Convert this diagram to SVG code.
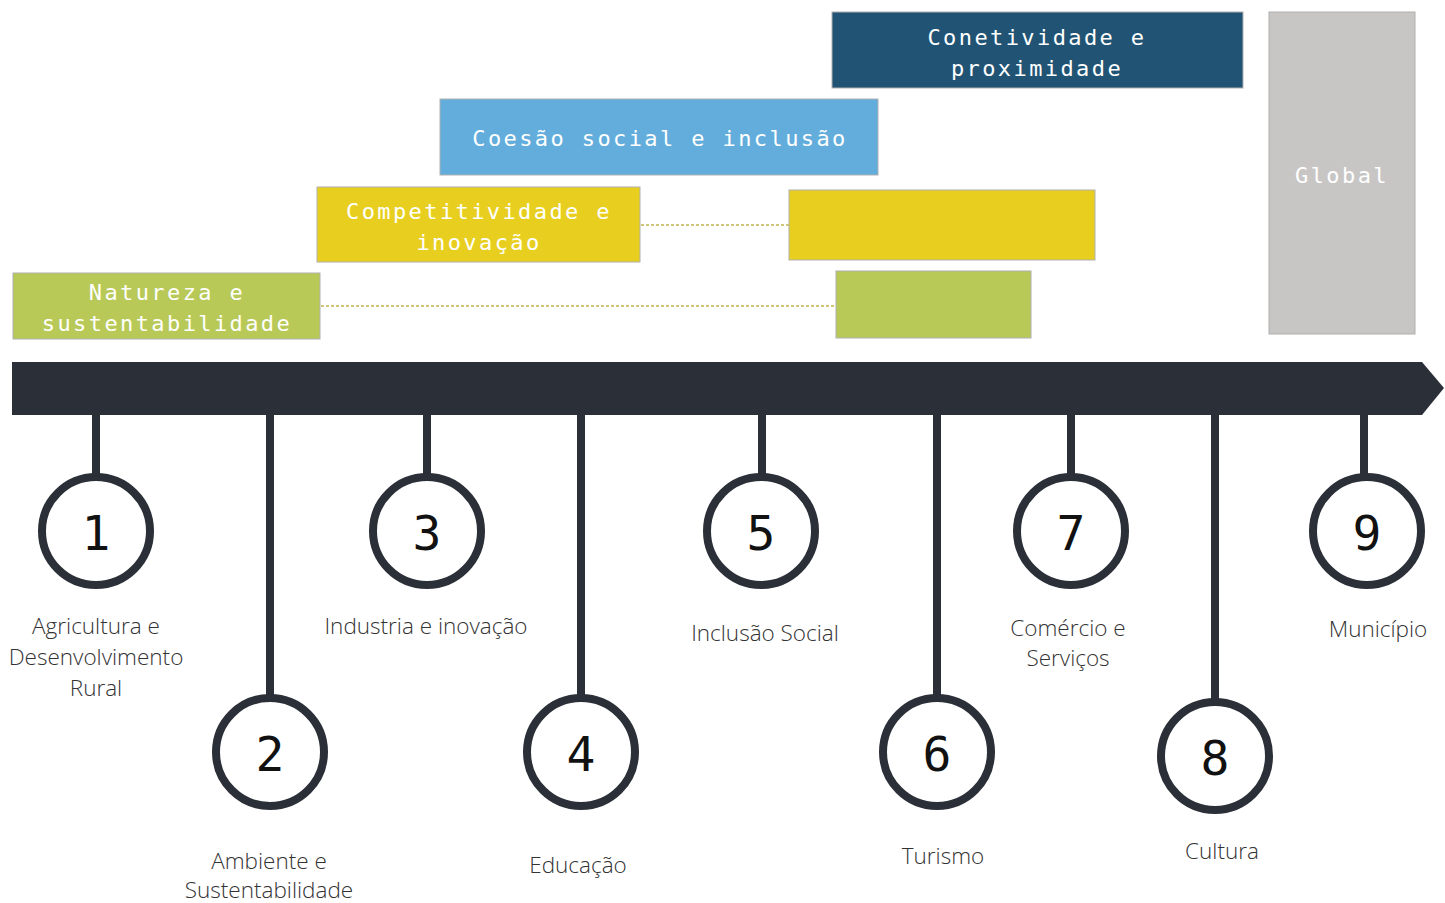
<svg xmlns="http://www.w3.org/2000/svg" width="1445" height="903" viewBox="0 0 1445 903">
<style>
.box{stroke:#b0b0b0;stroke-width:1}
.bt{font-family:"DejaVu Sans Mono","Liberation Mono",monospace;font-size:22px;fill:#ffffff;letter-spacing:2.4px;text-anchor:middle}
.dot{stroke:#cfc67a;stroke-width:2;stroke-dasharray:3 2;fill:none}
.stem{stroke:#2b2f38;stroke-width:8}
.circ{fill:#ffffff;stroke:#2b2f38;stroke-width:8}
.num{font-family:"DejaVu Sans Mono","Liberation Mono",monospace;font-size:48px;fill:#111111;text-anchor:middle}
.lab{font-family:"Open Sans","Noto Sans",sans-serif;font-weight:300;font-size:22.5px;fill:#333333;text-anchor:middle}
</style>
<rect width="1445" height="903" fill="#ffffff"/>
<g id="connectors">
<line class="dot" x1="641" y1="225" x2="789" y2="225"/>
<line class="dot" x1="321" y1="306" x2="836" y2="306"/>
</g>
<g id="conetividade"><rect class="box" x="832" y="12" width="411" height="76" fill="#215474"/><text class="bt" x="1037" y="45">Conetividade e</text><text class="bt" x="1037" y="76">proximidade</text></g>
<g id="coesao"><rect class="box" x="440" y="99" width="438" height="76" fill="#62addb"/><text class="bt" x="660" y="146">Coesão social e inclusão</text></g>
<g id="competitividade"><rect class="box" x="317" y="187" width="323" height="75" fill="#e8cf1f"/><text class="bt" x="479" y="219">Competitividade e</text><text class="bt" x="479" y="250">inovação</text></g>
<g id="yellow2"><rect class="box" x="789" y="190" width="306" height="70" fill="#e8cf1f"/></g>
<g id="natureza"><rect class="box" x="13" y="273" width="307" height="66" fill="#b8c957"/><text class="bt" x="167" y="300">Natureza e</text><text class="bt" x="167" y="331">sustentabilidade</text></g>
<g id="green2"><rect class="box" x="836" y="271" width="195" height="67" fill="#b8c957"/></g>
<g id="global"><rect class="box" x="1269" y="12" width="146" height="322" fill="#c8c6c5"/><text class="bt" x="1342" y="183">Global</text></g>
<g id="timeline"><path d="M12 362 H1422 L1444 388 L1422 415 H12 Z" fill="#2b2f38"/></g>
<g id="n1"><line class="stem" x1="96" y1="414" x2="96" y2="476"/><circle class="circ" cx="96" cy="531" r="54"/><text class="num" x="96" y="550">1</text><text class="lab" x="96" y="634">Agricultura e</text><text class="lab" x="96" y="665">Desenvolvimento</text><text class="lab" x="96" y="696">Rural</text></g>
<g id="n2"><line class="stem" x1="270" y1="414" x2="270" y2="697"/><circle class="circ" cx="270" cy="752" r="54"/><text class="num" x="270" y="771">2</text><text class="lab" x="269" y="869">Ambiente e</text><text class="lab" x="269" y="898">Sustentabilidade</text></g>
<g id="n3"><line class="stem" x1="427" y1="414" x2="427" y2="476"/><circle class="circ" cx="427" cy="531" r="54"/><text class="num" x="427" y="550">3</text><text class="lab" x="426" y="634">Industria e inovação</text></g>
<g id="n4"><line class="stem" x1="581" y1="414" x2="581" y2="697"/><circle class="circ" cx="581" cy="752" r="54"/><text class="num" x="581" y="771">4</text><text class="lab" x="578" y="873">Educação</text></g>
<g id="n5"><line class="stem" x1="762" y1="414" x2="762" y2="476"/><circle class="circ" cx="761" cy="531" r="54"/><text class="num" x="761" y="550">5</text><text class="lab" x="765" y="641">Inclusão Social</text></g>
<g id="n6"><line class="stem" x1="937" y1="414" x2="937" y2="697"/><circle class="circ" cx="937" cy="752" r="54"/><text class="num" x="937" y="771">6</text><text class="lab" x="943" y="864">Turismo</text></g>
<g id="n7"><line class="stem" x1="1071" y1="414" x2="1071" y2="476"/><circle class="circ" cx="1071" cy="531" r="54"/><text class="num" x="1071" y="550">7</text><text class="lab" x="1068" y="636">Comércio e</text><text class="lab" x="1068" y="666">Serviços</text></g>
<g id="n8"><line class="stem" x1="1215" y1="414" x2="1215" y2="701"/><circle class="circ" cx="1215" cy="756" r="54"/><text class="num" x="1215" y="775">8</text><text class="lab" x="1222" y="859">Cultura</text></g>
<g id="n9"><line class="stem" x1="1364" y1="414" x2="1364" y2="476"/><circle class="circ" cx="1367" cy="531" r="54"/><text class="num" x="1367" y="550">9</text><text class="lab" x="1378" y="637">Município</text></g>
</svg>
